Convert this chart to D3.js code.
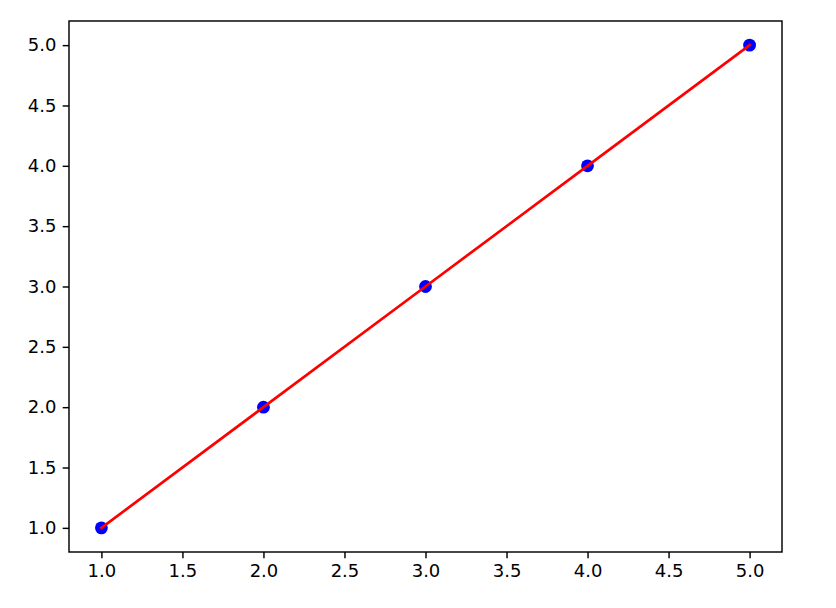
<!DOCTYPE html>
<html>
<head>
<meta charset="utf-8">
<script src="https://cdn.jsdelivr.net/npm/d3@7"></script>
<style>
  html, body { margin: 0; padding: 0; background: #fff; }
  svg { display: block; }
</style>
</head>
<body>
<svg id="chart" width="836" height="608"></svg>
<script>
const xValues = [1, 2, 3, 4, 5];
const yValues = [1, 2, 3, 4, 5];
const xTicks = [1.0, 1.5, 2.0, 2.5, 3.0, 3.5, 4.0, 4.5, 5.0];
const yTicks = [1.0, 1.5, 2.0, 2.5, 3.0, 3.5, 4.0, 4.5, 5.0];

const svg = d3.select("#chart");
const plotLeft = 69, plotRight = 782, plotTop = 21, plotBottom = 552;

const x = d3.scaleLinear().domain([0.8, 5.2]).range([plotLeft, plotRight]);
const y = d3.scaleLinear().domain([0.8, 5.2]).range([plotBottom, plotTop]);

const data = xValues.map((v, i) => ({x: v, y: yValues[i]}));

const font = "DejaVu Sans, sans-serif";
const tickLen = 6.3, tickPad = 6.3;

// scatter points
svg.append("g").selectAll("circle").data(data).enter().append("circle")
  .attr("cx", d => x(d.x)).attr("cy", d => y(d.y))
  .attr("r", 6.4).attr("fill", "#0000ff");

// line
svg.append("path").datum(data)
  .attr("d", d3.line().x(d => x(d.x)).y(d => y(d.y)))
  .attr("fill", "none").attr("stroke", "#ff0000").attr("stroke-width", 2.7)
  .attr("stroke-linecap", "square");

// axes
const xAxis = d3.axisBottom(x).tickValues(xTicks).tickFormat(d3.format(".1f"))
  .tickSize(tickLen).tickPadding(tickPad);
const yAxis = d3.axisLeft(y).tickValues(yTicks).tickFormat(d3.format(".1f"))
  .tickSize(tickLen).tickPadding(tickPad);

const gx = svg.append("g").attr("transform", `translate(0,${plotBottom})`).call(xAxis);
const gy = svg.append("g").attr("transform", `translate(${plotLeft},0)`).call(yAxis);

[gx, gy].forEach(g => {
  g.select(".domain").remove();
  g.selectAll(".tick line").attr("stroke", "#000").attr("stroke-width", 1.45);
  g.selectAll(".tick text").attr("fill", "#000")
    .style("font-family", font).style("font-size", "18px");
});

// frame
svg.append("rect")
  .attr("x", plotLeft).attr("y", plotTop)
  .attr("width", plotRight - plotLeft).attr("height", plotBottom - plotTop)
  .attr("fill", "none").attr("stroke", "#000").attr("stroke-width", 1.45);
</script>
</body>
</html>
